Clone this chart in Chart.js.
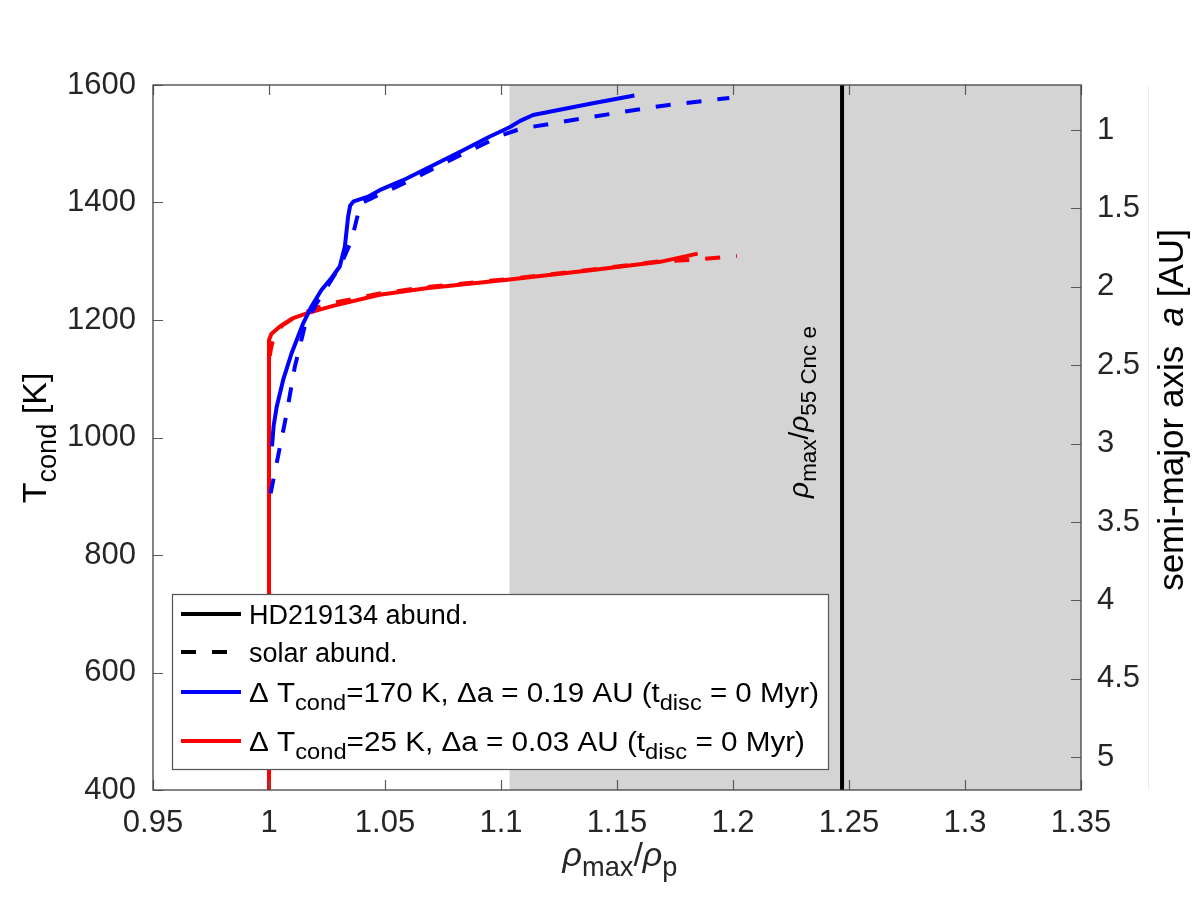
<!DOCTYPE html>
<html><head><meta charset="utf-8">
<script src="https://cdn.jsdelivr.net/npm/chart.js@4.4.0/dist/chart.umd.min.js"></script>
<style>html,body{margin:0;padding:0;background:#fff;}#wrap{width:1196px;height:897px;}</style>
</head><body><div id="wrap"><canvas id="c" width="1196" height="897"></canvas></div>
<script>
// ---- data ----
const xTicks = [0.95, 1, 1.05, 1.1, 1.15, 1.2, 1.25, 1.3, 1.35];
const yTicks = [400, 600, 800, 1000, 1200, 1400, 1600];
const aTicks = [1, 1.5, 2, 2.5, 3, 3.5, 4, 4.5, 5];

const blueSolidX = [1.0013, 1.0020, 1.0033, 1.0061, 1.0097, 1.0147, 1.0183, 1.0226, 1.0270, 1.0305, 1.0327, 1.0341, 1.0350, 1.0365, 1.0427, 1.0477, 1.0578, 1.0822, 1.0950, 1.1037, 1.1083, 1.1138, 1.1396, 1.1575];
const blueSolidY = [985, 1020, 1052, 1098, 1143, 1194, 1223, 1251, 1272, 1291, 1325, 1376, 1395, 1402, 1410, 1421, 1438, 1486, 1512, 1528, 1539, 1549, 1569, 1582];

const blueDashX = [1.0007, 1.0033, 1.0076, 1.0111, 1.0154, 1.0205, 1.0269, 1.0312, 1.0356, 1.0377, 1.0395, 1.0430, 1.0578, 1.0822, 1.1008, 1.1066, 1.1138, 1.1396, 1.1683, 1.1984];
const blueDashY = [905, 956, 1041, 1120, 1189, 1228, 1268, 1296, 1336, 1370, 1398, 1405, 1432, 1480, 1515, 1523, 1529, 1546, 1564, 1578];

const redSolidX = [1.0000, 1.0000, 1.0010, 1.0047, 1.0104, 1.0169, 1.0276, 1.0477, 1.0678, 1.1037, 1.1396, 1.1686, 1.1848];
const redSolidY = [400, 1166, 1176, 1189, 1203, 1212, 1224, 1243, 1254, 1269, 1285, 1299, 1313];

const redDashX = [1.0000, 1.0000, 1.0008, 1.0020, 1.0060, 1.0120, 1.0200, 1.0300, 1.0477, 1.0678, 1.1037, 1.1396, 1.1683, 1.1816, 1.2017];
const redDashY = [400, 1130, 1150, 1172, 1192, 1207, 1220, 1231, 1245, 1256, 1270, 1286, 1300, 1302, 1309];

const cncLineX = [1.247, 1.247];
const cncLineY = [400, 1600];
const shadeStart = 1.1037;
const aMin = 0.713, aMax = 5.209;

const legendLabels = ['HD219134 abund.', 'solar abund.'];

// ---- helpers ----
const FONT = '"Liberation Sans", Arial, Helvetica, sans-serif';
const mk = (xs, ys) => xs.map((x, i) => ({x: x, y: ys[i]}));
const SUB = 0.8;

function richWidth(ctx, parts, base) {
  let w = 0;
  for (const p of parts) {
    const s = p.sub ? base * SUB : base;
    ctx.font = (p.it ? 'italic ' : '') + s + 'px ' + FONT;
    w += ctx.measureText(p.t).width;
  }
  return w;
}
function drawRich(ctx, parts, base, x, y, align, rot, color, fitW) {
  ctx.save();
  ctx.translate(x, y);
  if (rot) ctx.rotate(rot);
  let w = richWidth(ctx, parts, base);
  if (fitW) { ctx.scale(fitW / w, 1); }
  let cx = align === 'center' ? -w / 2 : (align === 'right' ? -w : 0);
  ctx.fillStyle = color || '#000';
  ctx.textBaseline = 'alphabetic';
  ctx.textAlign = 'left';
  for (const p of parts) {
    const s = p.sub ? base * SUB : base;
    ctx.font = (p.it ? 'italic ' : '') + s + 'px ' + FONT;
    ctx.fillText(p.t, cx, p.sub ? base * 0.3 : 0);
    cx += ctx.measureText(p.t).width;
  }
  ctx.restore();
}

const overlay = {
  id: 'overlay',
  beforeDatasetsDraw(chart) {
    const {ctx, chartArea: ca, scales} = chart;
    const xs = scales.x.getPixelForValue(shadeStart);
    ctx.save();
    ctx.fillStyle = '#d4d4d4';
    ctx.fillRect(xs, ca.top, ca.right - xs, ca.bottom - ca.top);
    ctx.restore();
  },
  afterDraw(chart) {
    const {ctx, chartArea: ca, scales} = chart;
    ctx.save();
    ctx.strokeStyle = '#5a5a5a';
    ctx.lineWidth = 1.2;
    const TL = 10;
    ctx.beginPath();
    for (const v of xTicks) {
      const px = Math.round(scales.x.getPixelForValue(v)) + 0.5;
      ctx.moveTo(px, ca.bottom); ctx.lineTo(px, ca.bottom - TL);
      ctx.moveTo(px, ca.top); ctx.lineTo(px, ca.top + TL);
    }
    for (const v of yTicks) {
      const py = Math.round(scales.y.getPixelForValue(v)) + 0.5;
      ctx.moveTo(ca.left, py); ctx.lineTo(ca.left + TL, py);
    }
    for (const v of aTicks) {
      const py = Math.round(scales.y2.getPixelForValue(v)) + 0.5;
      ctx.moveTo(ca.right, py); ctx.lineTo(ca.right - TL, py);
    }
    ctx.stroke();
    ctx.strokeStyle = '#444';
    ctx.lineWidth = 1.3;
    ctx.strokeRect(ca.left, ca.top, ca.right - ca.left, ca.bottom - ca.top);
    ctx.strokeStyle = '#ececec';
    ctx.lineWidth = 1;
    ctx.beginPath(); ctx.moveTo(1148.5, ca.top); ctx.lineTo(1148.5, ca.bottom); ctx.stroke();
    ctx.restore();

    // titles
    drawRich(ctx, [{t: 'T'}, {t: 'cond', sub: 1}, {t: ' [K]'}], 34, 46, 438, 'center', -Math.PI / 2, '#000');
    drawRich(ctx, [{t: 'ρ', it: 1}, {t: 'max', sub: 1}, {t: '/'}, {t: 'ρ', it: 1}, {t: 'p', sub: 1}], 34, 620, 866, 'center', 0, '#262626');
    drawRich(ctx, [{t: 'semi-major axis  '}, {t: 'a', it: 1}, {t: ' [AU]'}], 35, 1183, 410, 'center', -Math.PI / 2, '#000');
    drawRich(ctx, [{t: 'ρ', it: 1}, {t: 'max', sub: 1}, {t: '/'}, {t: 'ρ', it: 1}, {t: '55 Cnc e', sub: 1}], 28, 808, 412, 'center', -Math.PI / 2, '#000');

    // legend
    const L = {x: 172, y: 594, w: 656, h: 175};
    ctx.save();
    ctx.fillStyle = '#fff';
    ctx.fillRect(L.x, L.y, L.w, L.h);
    ctx.strokeStyle = '#555';
    ctx.lineWidth = 1.2;
    ctx.strokeRect(L.x + 0.5, L.y + 0.5, L.w, L.h);
    const rows = [
      {y: 614, color: '#000', dash: [], parts: [{t: legendLabels[0]}], fit: 0},
      {y: 652, color: '#000', dash: [15, 16], parts: [{t: legendLabels[1]}], fit: 0},
      {y: 692, color: '#0000ff', dash: [], parts: [{t: 'Δ T'}, {t: 'cond', sub: 1}, {t: '=170 K, Δa = 0.19 AU (t'}, {t: 'disc', sub: 1}, {t: ' = 0 Myr)'}], fit: 570},
      {y: 741, color: '#ff0000', dash: [], parts: [{t: 'Δ T'}, {t: 'cond', sub: 1}, {t: '=25 K, Δa = 0.03 AU (t'}, {t: 'disc', sub: 1}, {t: ' = 0 Myr)'}], fit: 556}
    ];
    for (const r of rows) {
      ctx.strokeStyle = r.color;
      ctx.lineWidth = 4;
      ctx.setLineDash(r.dash);
      ctx.beginPath(); ctx.moveTo(181, r.y); ctx.lineTo(241, r.y); ctx.stroke();
      ctx.setLineDash([]);
      drawRich(ctx, r.parts, 27, 249, r.y + 10, 'left', 0, '#000', r.fit);
    }
    ctx.restore();
  }
};

const tickFont = {family: FONT, size: 31};
const lineDs = (xs, ys, color, dash) => ({
  data: mk(xs, ys), borderColor: color, backgroundColor: color, borderWidth: 4,
  borderDash: dash, borderCapStyle: 'butt', borderJoinStyle: 'round',
  pointRadius: 0, showLine: true, fill: false, tension: 0, yAxisID: 'y'
});

new Chart(document.getElementById('c'), {
  type: 'scatter',
  data: {
    datasets: [
      lineDs(blueDashX, blueDashY, '#0000ff', [15, 16]),
      lineDs(blueSolidX, blueSolidY, '#0000ff', []),
      lineDs(redDashX, redDashY, '#ff0000', [15, 16]),
      lineDs(redSolidX, redSolidY, '#ff0000', []),
      lineDs(cncLineX, cncLineY, '#000000', [])
    ]
  },
  options: {
    responsive: false, animation: false, devicePixelRatio: 1,
    layout: {padding: {top: 85, left: 0, right: 0, bottom: 0}},
    plugins: {legend: {display: false}, tooltip: {enabled: false}},
    scales: {
      x: {
        type: 'linear', position: 'bottom', min: 0.95, max: 1.35,
        grid: {display: false}, border: {display: false},
        afterBuildTicks: s => { s.ticks = xTicks.map(v => ({value: v})); },
        afterFit: s => { s.height = 107; },
        ticks: {font: tickFont, color: '#262626', padding: 7, maxRotation: 0, autoSkip: false, callback: v => String(v)}
      },
      y: {
        type: 'linear', position: 'left', min: 400, max: 1600,
        grid: {display: false}, border: {display: false},
        afterBuildTicks: s => { s.ticks = yTicks.map(v => ({value: v})); },
        afterFit: s => { s.width = 153; },
        ticks: {font: tickFont, color: '#262626', padding: 9, autoSkip: false, callback: v => String(v)}
      },
      y2: {
        type: 'linear', position: 'right', min: aMin, max: aMax, reverse: true,
        grid: {display: false}, border: {display: false},
        afterBuildTicks: s => { s.ticks = aTicks.map(v => ({value: v})); },
        afterFit: s => { s.width = 115; },
        ticks: {font: tickFont, color: '#262626', padding: 8, autoSkip: false, callback: v => String(v)}
      }
    }
  },
  plugins: [overlay]
});
</script></body></html>
